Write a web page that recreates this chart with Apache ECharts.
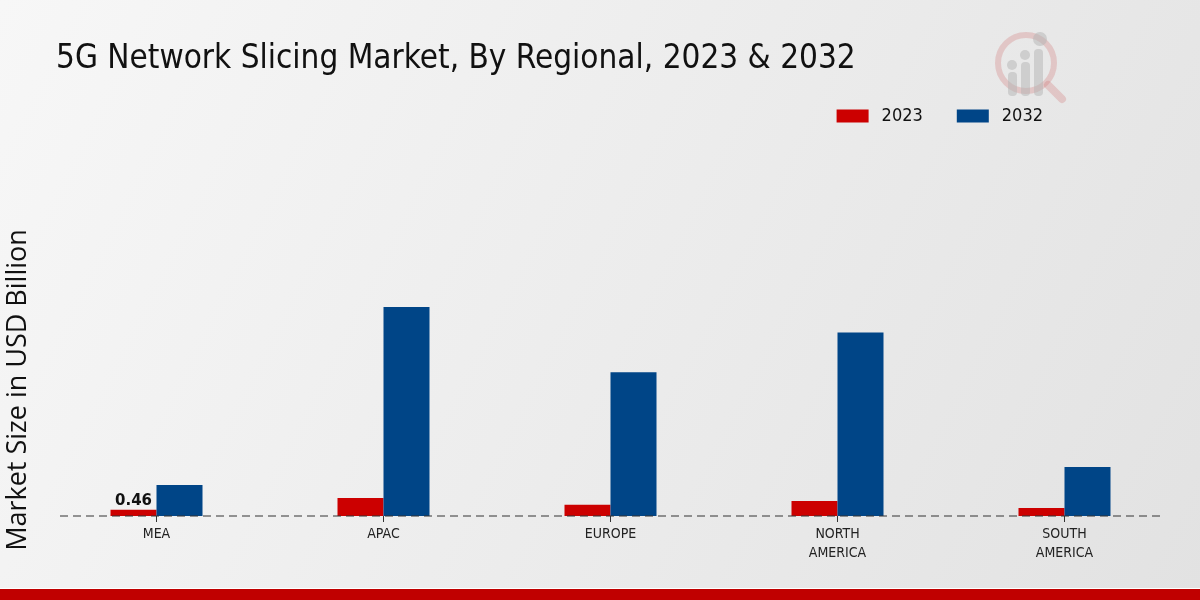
<!DOCTYPE html>
<html>
<head>
<meta charset="utf-8">
<script src="https://cdn.jsdelivr.net/npm/echarts@6/dist/echarts.min.js"></script>
<style>
html,body{margin:0;padding:0;}
#chart{width:1200px;height:600px;}
</style>
</head>
<body>
<div id="chart"></div>
<script>
var categories = ['MEA', 'APAC', 'EUROPE', 'NORTH\nAMERICA', 'SOUTH\nAMERICA'];
var values2023 = [0.46, 1.31, 0.82, 1.09, 0.58];
var values2032 = [2.27, 15.26, 10.5, 13.4, 3.58];
var seriesNames = ['2023', '2032'];
var titleText = '5G Network Slicing Market, By Regional, 2023 & 2032';
var yAxisTitle = 'Market Size in USD Billion';

var condensed = '"DejaVu Sans Condensed", "Liberation Sans Narrow", "DejaVu Sans", sans-serif';

var chart = echarts.init(document.getElementById('chart'), null, {renderer: 'canvas'});
chart.setOption({
  animation: false,
  backgroundColor: new echarts.graphic.LinearGradient(0, 0, 1, 1, [
    {offset: 0, color: '#f7f7f7'},
    {offset: 1, color: '#e2e2e2'}
  ]),
  title: {
    text: titleText,
    left: 51,
    top: 38,
    textStyle: {fontFamily: condensed, fontSize: 33, fontWeight: 'normal', color: '#111'}
  },
  legend: {
    data: seriesNames,
    right: 152,
    top: 102,
    itemWidth: 32,
    itemHeight: 13,
    itemGap: 34,
    textStyle: {fontFamily: condensed, fontSize: 18, color: '#111', padding: [0, 0, 0, 8]},
    icon: 'rect'
  },
  grid: {left: 43, right: 22, top: 105, bottom: 84},
  xAxis: {
    type: 'category',
    data: categories,
    axisLine: {show: false},
    axisTick: {show: true, alignWithLabel: true, length: 6, lineStyle: {color: '#333'}},
    axisLabel: {fontFamily: condensed, fontSize: 14, color: '#222', margin: 9, lineHeight: 19}
  },
  yAxis: {
    type: 'value',
    min: 0,
    max: 30,
    show: false
  },
  series: [
    {
      name: seriesNames[0],
      type: 'bar',
      data: values2023,
      barWidth: 46,
      barGap: '0%',
      itemStyle: {color: '#cc0000'},
      label: {
        show: true,
        position: 'top',
        fontFamily: '"DejaVu Sans", sans-serif',
        fontWeight: 'bold',
        fontSize: 15,
        color: '#111',
        distance: 1,
        formatter: function (p) { return p.dataIndex === 0 ? p.value : ''; }
      }
    },
    {
      name: seriesNames[1],
      type: 'bar',
      data: values2032,
      barWidth: 46,
      barGap: '0%',
      itemStyle: {color: '#004587'}
    }
  ],
  graphic: [
    {
      type: 'line',
      shape: {x1: 60, y1: 516, x2: 1160, y2: 516},
      style: {stroke: '#333', lineWidth: 1, lineDash: [8, 5]},
      z: 10
    },
    {
      type: 'text',
      x: 18,
      y: 390,
      rotation: Math.PI / 2,
      style: {
        text: yAxisTitle,
        font: '27px "Open Sans", "Noto Sans", sans-serif',
        fill: '#111',
        align: 'center',
        verticalAlign: 'middle'
      }
    },
    {
      type: 'rect',
      shape: {x: 0, y: 589, width: 1200, height: 11},
      style: {fill: '#c00000'}
    },
    {
      type: 'line',
      shape: {x1: 0, y1: 588.5, x2: 1200, y2: 588.5},
      style: {stroke: '#ffffff', lineWidth: 1}
    },
    {
      type: 'group',
      left: 995,
      top: 32,
      children: [
        {type: 'circle', shape: {cx: 32, cy: 36, r: 28}, style: {fill: 'none', stroke: 'rgba(210,120,120,0.3)', lineWidth: 6}},
        {type: 'line', shape: {x1: 54, y1: 58, x2: 68, y2: 72}, style: {stroke: 'rgba(210,120,120,0.3)', lineWidth: 8, lineCap: 'round'}},
        {type: 'rect', shape: {x: 14, y: 45, width: 9, height: 24, r: 4}, style: {fill: 'rgba(180,180,180,0.5)'}},
        {type: 'rect', shape: {x: 27, y: 35, width: 9, height: 34, r: 4}, style: {fill: 'rgba(180,180,180,0.5)'}},
        {type: 'rect', shape: {x: 40, y: 22, width: 9, height: 47, r: 4}, style: {fill: 'rgba(180,180,180,0.5)'}},
        {type: 'circle', shape: {cx: 18, cy: 38, r: 5}, style: {fill: 'rgba(180,180,180,0.5)'}},
        {type: 'circle', shape: {cx: 31, cy: 28, r: 5}, style: {fill: 'rgba(180,180,180,0.5)'}},
        {type: 'circle', shape: {cx: 46, cy: 12, r: 7}, style: {fill: 'rgba(180,180,180,0.5)'}}
      ]
    }
  ]
});
</script>
</body>
</html>
